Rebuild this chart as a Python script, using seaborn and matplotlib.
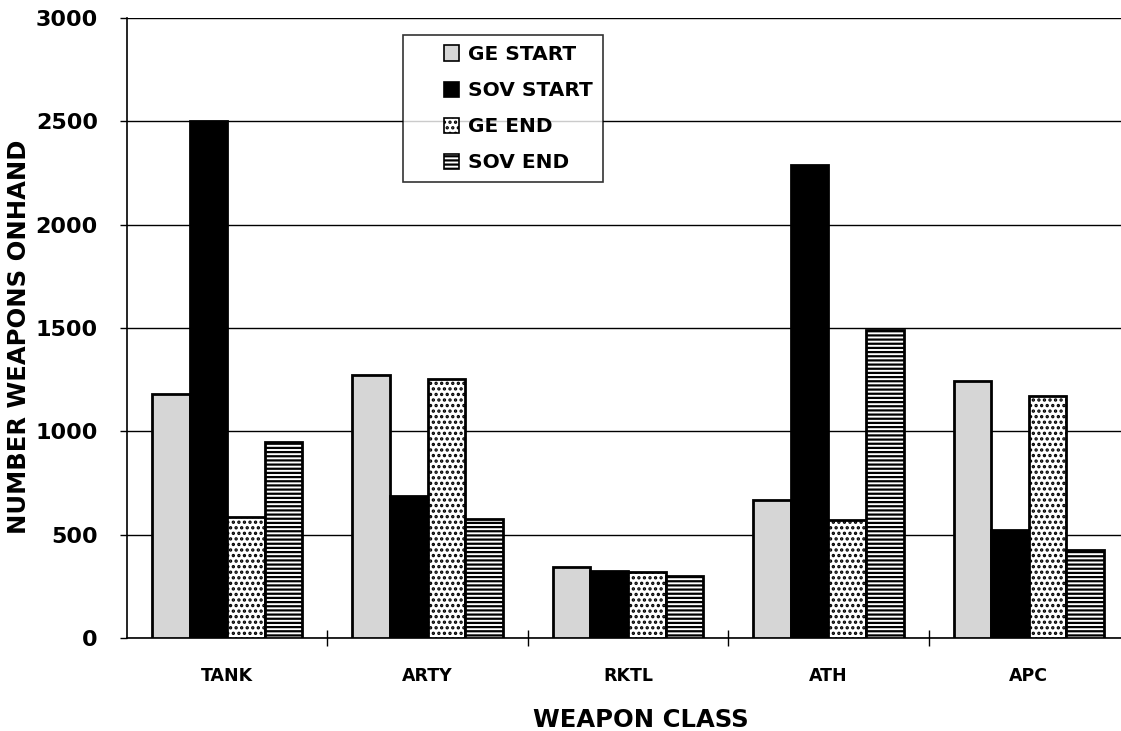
import matplotlib
matplotlib.use("Agg")
import matplotlib.pyplot as plt
from matplotlib.patches import Patch, Rectangle
from matplotlib.legend_handler import HandlerPatch
import seaborn as sns
import pandas as pd

categories = ["TANK", "ARTY", "RKTL", "ATH", "APC"]
series = ["GE START", "SOV START", "GE END", "SOV END"]
ge_start = [1180, 1275, 345, 670, 1245]
sov_start = [2500, 685, 325, 2290, 525]
ge_end = [585, 1255, 320, 570, 1170]
sov_end = [950, 575, 300, 1490, 425]
y_ticks = [0, 500, 1000, 1500, 2000, 2500, 3000]

rows = []
for name, vals in zip(series, [ge_start, sov_start, ge_end, sov_end]):
    for c, v in zip(categories, vals):
        rows.append({"cls": c, "series": name, "value": v})
df = pd.DataFrame(rows)

sns.set_style("white")
plt.rcParams["font.family"] = ["DejaVu Sans"]
plt.rcParams["font.weight"] = "bold"
plt.rcParams["hatch.linewidth"] = 1.6
for key in ["text.color", "axes.labelcolor", "xtick.color", "ytick.color"]:
    plt.rcParams[key] = "black"

fig = plt.figure(figsize=(11.21, 7.31), dpi=100)
ax = fig.add_axes([127 / 1121, (731 - 638) / 731, 1002 / 1121, 620 / 731])

sns.barplot(data=df, x="cls", y="value", hue="series", order=categories,
            hue_order=series, width=0.75, ax=ax, legend=False, gap=0)

styles = [
    dict(facecolor="#d6d6d6", hatch=None),
    dict(facecolor="black", hatch=None),
    dict(facecolor="white", hatch="..."),
    dict(facecolor="white", hatch="----"),
]
for cont, st in zip(ax.containers, styles):
    for p in cont.patches:
        p.set_facecolor(st["facecolor"])
        p.set_edgecolor("black")
        p.set_linewidth(2)
        if st["hatch"]:
            p.set_hatch(st["hatch"])
        p.set_zorder(3)

ax.set_ylim(0, 3000)
ax.set_xlim(-0.5, 4.5)
ax.set_yticks(y_ticks)
ax.set_yticklabels([str(t) for t in y_ticks], fontsize=16, fontweight="bold", color="black")
ax.yaxis.grid(True, color="black", linewidth=1)
ax.set_axisbelow(True)
ax.tick_params(axis="y", direction="out", length=5, width=1, color="black", pad=16, left=True)

ax.set_xticks(range(len(categories)))
ax.set_xticklabels(categories, fontsize=12.5, fontweight="bold", color="black")
ax.tick_params(axis="x", which="major", length=0, pad=21)
ax.set_xticks([0.5, 1.5, 2.5, 3.5], minor=True)
ax.tick_params(axis="x", which="minor", direction="inout", length=12, width=1, color="black", bottom=True)

for s in ["top", "right"]:
    ax.spines[s].set_visible(False)
for s in ["left", "bottom"]:
    ax.spines[s].set_color("black")
    ax.spines[s].set_linewidth(1.2)

ax.set_xlabel("WEAPON CLASS", fontsize=17.5, fontweight="bold", color="black")
ax.xaxis.set_label_coords(0.513, -0.113)
ax.set_ylabel("NUMBER WEAPONS ONHAND", fontsize=17.5, fontweight="bold", color="black")
ax.yaxis.set_label_coords(-0.096, 0.485)


def square_patch(legend, orig_handle, xdescent, ydescent, width, height, fontsize):
    size = height
    return Rectangle((-xdescent + width - size, -ydescent), size, size)


handles = [Patch(facecolor=st["facecolor"], edgecolor="black", hatch=st["hatch"], linewidth=1.2)
           for st in styles]
leg = ax.legend(handles, series, loc="upper left", bbox_to_anchor=(0.275, 0.9726),
                prop={"weight": "bold", "size": 14.5}, frameon=True, fancybox=False,
                handlelength=2.3, handleheight=0.78, handletextpad=0.45, labelspacing=0.85,
                borderpad=0.5, borderaxespad=0,
                handler_map={Patch: HandlerPatch(patch_func=square_patch)})
leg.get_frame().set_edgecolor("black")
leg.get_frame().set_linewidth(1.2)
leg.set_zorder(5)
for t in leg.get_texts():
    t.set_color("black")

fig.savefig("out.png", dpi=100)
